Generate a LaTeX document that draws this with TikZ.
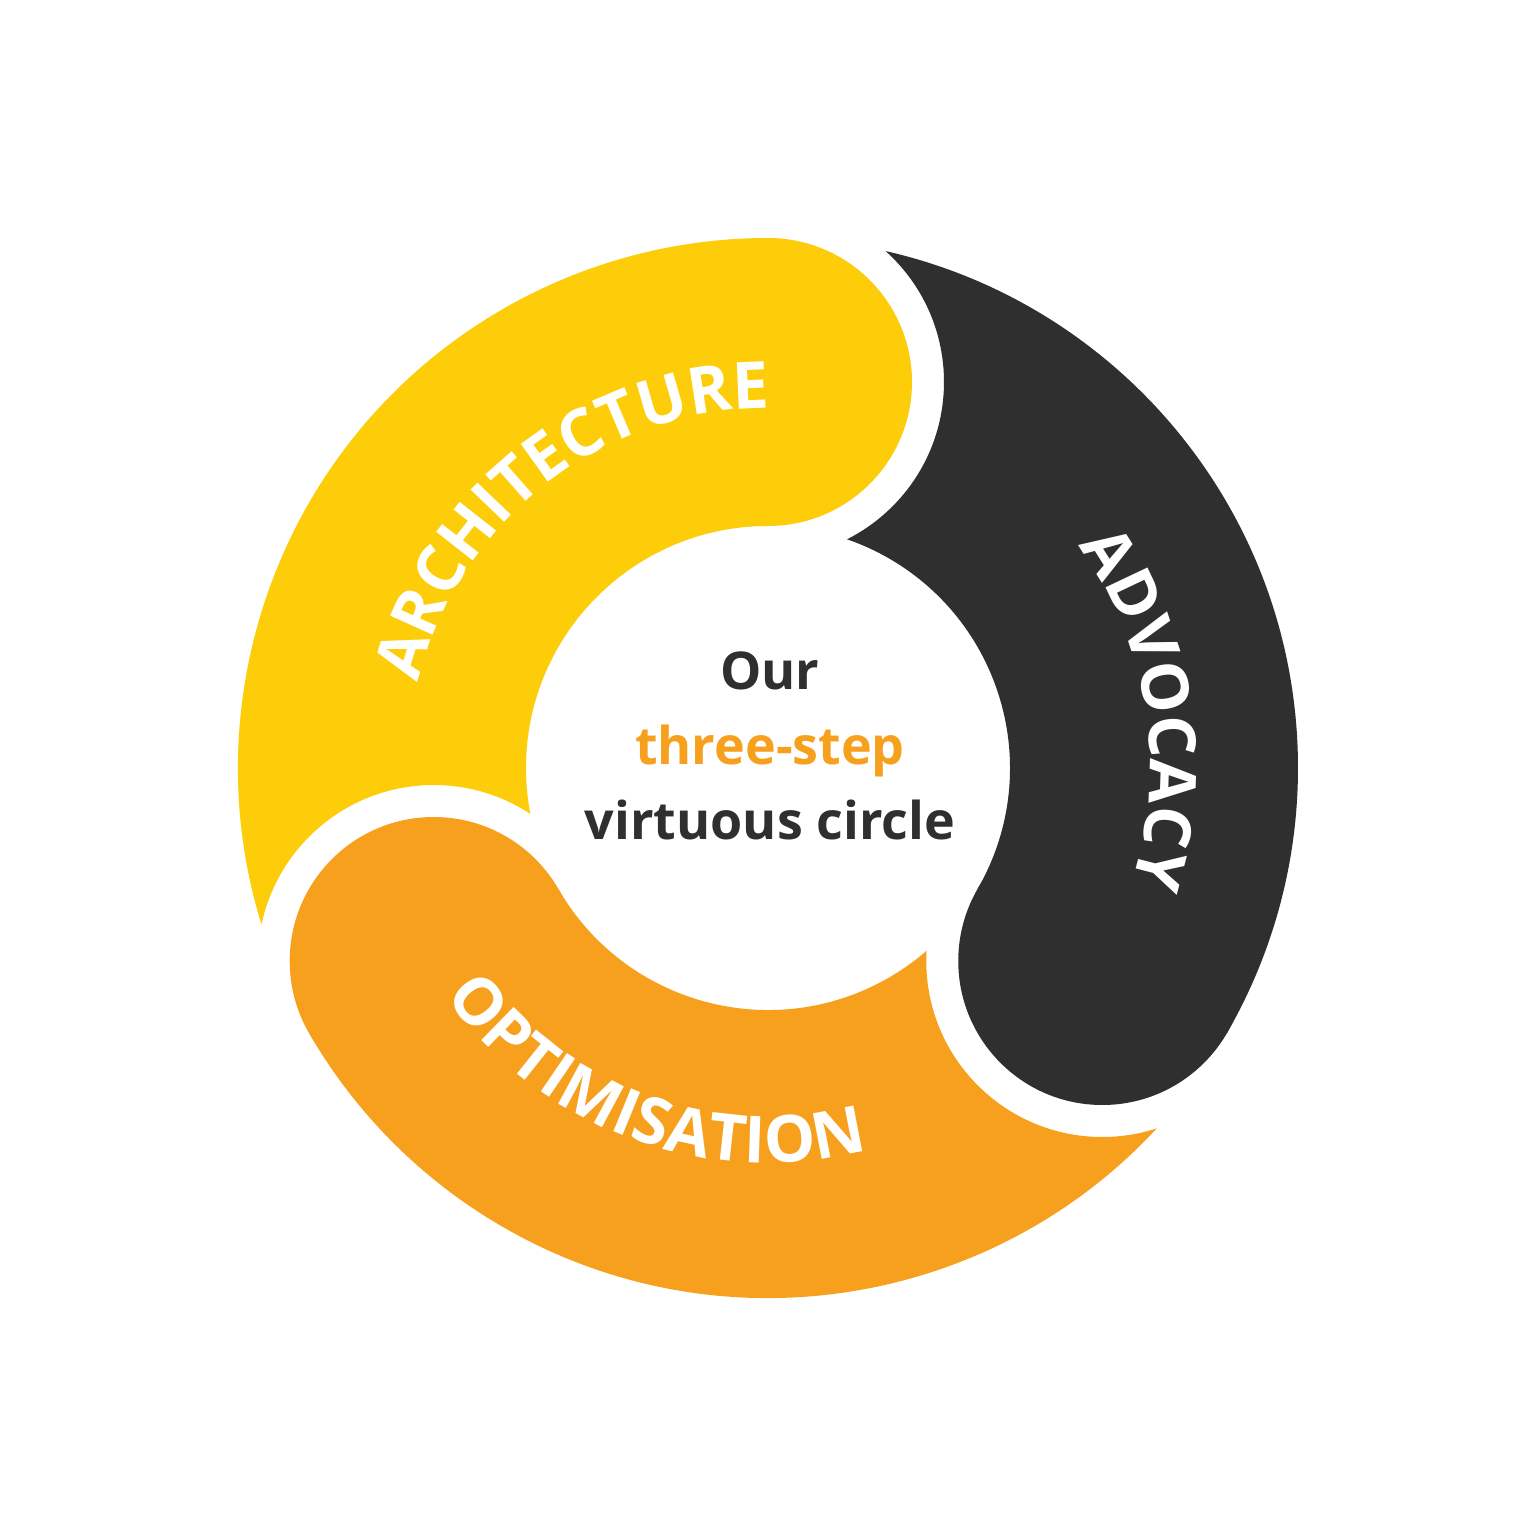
\documentclass[tikz,border=0pt]{standalone}
\usepackage{fontspec}
\setmainfont{Open Sans}
\usetikzlibrary{decorations.text}
\definecolor{cyel}{HTML}{FDCD0A}
\definecolor{corg}{HTML}{F7A01D}
\definecolor{cdrk}{HTML}{2F2F2F}
\tikzset{
  seglabel/.style={decorate,decoration={text along path,text align=center,
    text={|\color{white}\fontsize{18.5}{20}\selectfont\bfseries|#1}}}
}
\def\Ro{5.3}\def\Ri{2.42}\def\Rm{3.86}
\begin{document}
\begin{tikzpicture}
\useasboundingbox (-7.68,-7.67) rectangle (7.67,7.68);
\fill[white] (-7.68,-7.67) rectangle (7.67,7.68);
\coordinate (O) at (0,0);
\coordinate (cy) at (90:\Rm);
\coordinate (cd) at (-30:\Rm);
\coordinate (co) at (210:\Rm);
% sectors
\begin{scope}
\clip (210:\Ro) arc[start angle=210,end angle=90,radius=\Ro] -- (90:\Ri) arc[start angle=90,end angle=210,radius=\Ri] -- cycle;
\fill[cyel,even odd rule] (-8,-8) rectangle (8,8) (co) circle (1.76);
\end{scope}
\begin{scope}
\clip (90:\Ro) arc[start angle=90,end angle=-30,radius=\Ro] -- (-30:\Ri) arc[start angle=-30,end angle=90,radius=\Ri] -- cycle;
\fill[cdrk,even odd rule] (-8,-8) rectangle (8,8) (cy) circle (1.76);
\end{scope}
\begin{scope}
\clip (330:\Ro) arc[start angle=330,end angle=210,radius=\Ro] -- (210:\Ri) arc[start angle=210,end angle=330,radius=\Ri] -- cycle;
\fill[corg,even odd rule] (-8,-8) rectangle (8,8) (cd) circle (1.76);
\end{scope}
% caps
\fill[cyel] (cy) circle (1.44);
\fill[cdrk] (cd) circle (1.44);
\fill[corg] (co) circle (1.44);
% labels
\path[seglabel=ARCHITECTURE] (181:3.6) arc[start angle=181,end angle=75,radius=3.6];
\path[seglabel=ADVOCACY] (60:3.82) arc[start angle=60,end angle=-42,radius=3.82];
\path[seglabel=OPTIMISATION] (198:3.95) arc[start angle=198,end angle=302,radius=3.95];
\node[align=center,font=\fontsize{14.8}{21.3}\selectfont\bfseries,text=cdrk] (ctext) at (0.02,0.22)
 {Our\\\textcolor{corg}{three-step}\\virtuous circle};
\end{tikzpicture}
\end{document}
